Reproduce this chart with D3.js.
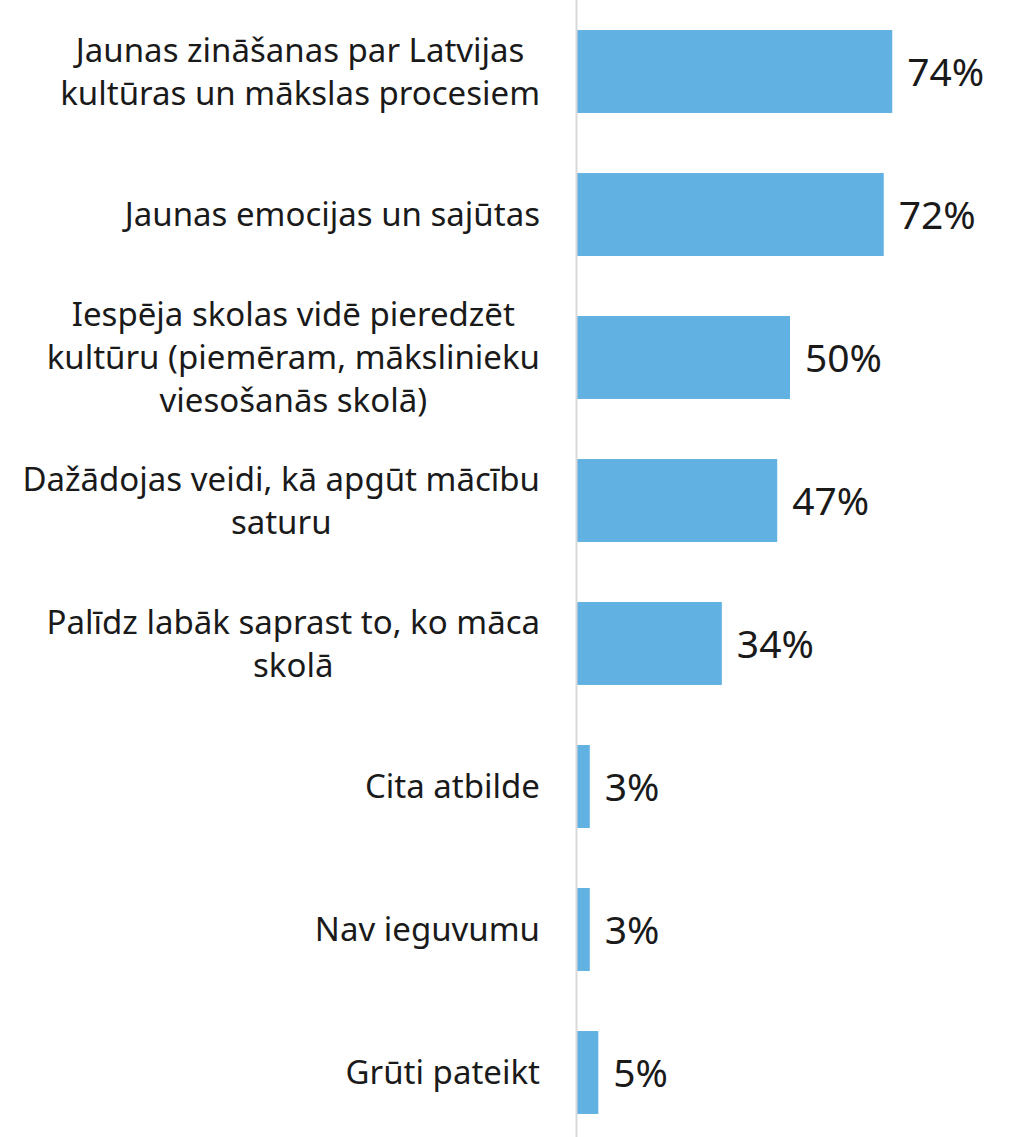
<!DOCTYPE html>
<html>
<head>
<meta charset="utf-8">
<style>
  body { margin: 0; background: #fff; }
  svg text { font-family: "Noto Sans", "Open Sans", sans-serif; fill: #1a1a1a; }
</style>
</head>
<body>
<svg width="1012" height="1137"></svg>
<script src="https://d3js.org/d3.v7.min.js"></script>
<script>
// answer categories, with line breaks as in the original
var categories = [
  ["Jaunas zināšanas par Latvijas", "kultūras un mākslas procesiem"],
  ["Jaunas emocijas un sajūtas"],
  ["Iespēja skolas vidē pieredzēt", "kultūru (piemēram, mākslinieku", "viesošanās skolā)"],
  ["Dažādojas veidi, kā apgūt mācību", "saturu"],
  ["Palīdz labāk saprast to, ko māca", "skolā"],
  ["Cita atbilde"],
  ["Nav ieguvumu"],
  ["Grūti pateikt"]
];
var values = [74, 72, 50, 47, 34, 3, 3, 5];
var valueLabels = ["74%", "72%", "50%", "47%", "34%", "3%", "3%", "5%"];

var svg = d3.select("svg");
var x0 = 577;

var x = d3.scaleLinear().domain([0, 100]).range([x0, x0 + 426]);
var y = d3.scaleBand()
  .domain(d3.range(values.length))
  .range([0, 1144])
  .paddingInner(0.42)
  .paddingOuter(0.21);

svg.selectAll("rect.bar")
  .data(values)
  .enter().append("rect")
  .attr("class", "bar")
  .attr("x", x(0))
  .attr("y", function(d, i) { return y(i); })
  .attr("width", function(d) { return x(d) - x(0); })
  .attr("height", y.bandwidth())
  .attr("fill", "#61b1e3");

// axis line
svg.append("line")
  .attr("x1", x0 - 0.5).attr("x2", x0 - 0.5)
  .attr("y1", 0).attr("y2", 1137)
  .attr("stroke", "#d9d9d9")
  .attr("stroke-width", 2);

svg.selectAll("text.val")
  .data(values)
  .enter().append("text")
  .attr("class", "val")
  .attr("x", function(d) { return x(d) + 15; })
  .attr("y", function(d, i) { return y(i) + y.bandwidth() / 2; })
  .attr("dy", "0.36em")
  .style("font-size", "39px")
  .text(function(d, i) { return valueLabels[i]; });

// category labels: block right-aligned to 540, lines centered inside it
var lineH = 43;
var rightEdge = 540;
categories.forEach(function(lines, i) {
  var g = svg.append("g");
  var cy = y(i) + y.bandwidth() / 2;
  var texts = lines.map(function(s, k) {
    return g.append("text")
      .style("font-size", "33px")
      .attr("text-anchor", "middle")
      .attr("y", cy + (k - (lines.length - 1) / 2) * lineH)
      .attr("dy", "0.36em")
      .text(s);
  });
  var maxW = d3.max(texts, function(t) { return t.node().getComputedTextLength(); });
  texts.forEach(function(t) { t.attr("x", rightEdge - maxW / 2); });
});
</script>
</body>
</html>
